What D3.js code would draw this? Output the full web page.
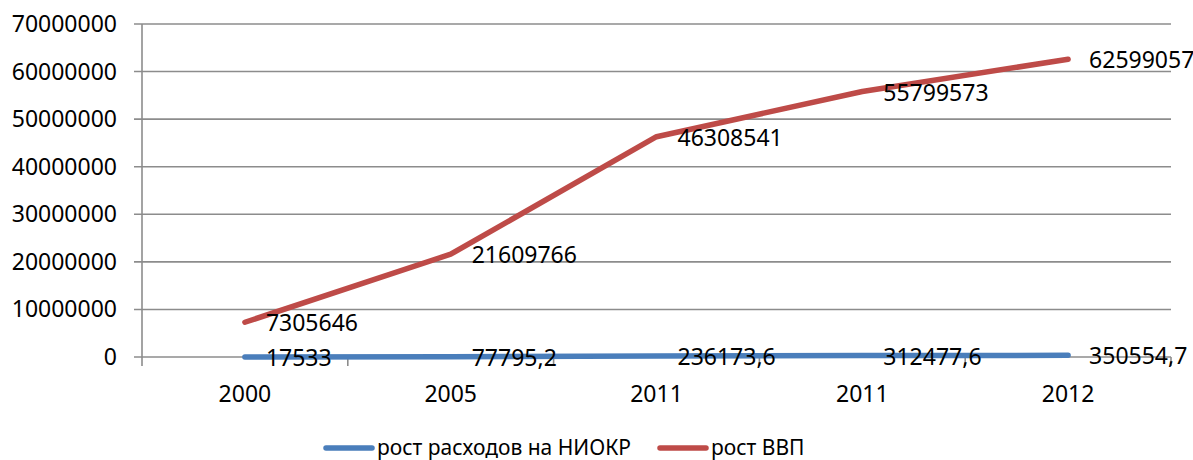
<!DOCTYPE html>
<html>
<head>
<meta charset="utf-8">
<script src="https://cdn.jsdelivr.net/npm/d3@7"></script>
<style>
  body { margin: 0; background: #fff; }
  text { font-family: "Noto Sans", "Open Sans", sans-serif; fill: #000; }
</style>
</head>
<body>
<div id="chart"></div>
<script>
const years = ["2000", "2005", "2011", "2011", "2012"];
const niokr = [17533, 77795.2, 236173.6, 312477.6, 350554.7];
const gdp = [7305646, 21609766, 46308541, 55799573, 62599057];
const seriesNames = ["рост расходов на НИОКР", "рост ВВП"];
const yTicks = [0, 10000000, 20000000, 30000000, 40000000, 50000000, 60000000, 70000000];

const W = 1193, H = 460;
const plotLeft = 142, plotRight = 1171, plotTop = 24, plotBottom = 357;

const svg = d3.select("#chart")
  .append("svg")
  .attr("width", W)
  .attr("height", H);

const idx = years.map((d, i) => i);

const x = d3.scaleBand()
  .domain(idx)
  .range([plotLeft, plotRight]);

const y = d3.scaleLinear()
  .domain([0, 70000000])
  .range([plotBottom, plotTop]);

const cx = i => x(i) + x.bandwidth() / 2;

// gridlines
svg.append("g")
  .selectAll("line")
  .data(yTicks)
  .enter()
  .append("line")
  .attr("x1", plotLeft - 8)
  .attr("x2", plotRight)
  .attr("y1", d => y(d))
  .attr("y2", d => y(d))
  .attr("stroke", "#8c8c8c")
  .attr("stroke-width", 1.6);

// y axis line
svg.append("line")
  .attr("x1", plotLeft).attr("x2", plotLeft)
  .attr("y1", plotTop).attr("y2", plotBottom)
  .attr("stroke", "#8c8c8c")
  .attr("stroke-width", 1.6);

// x ticks at band boundaries
svg.append("g")
  .selectAll("line")
  .data(idx.concat([idx.length]))
  .enter()
  .append("line")
  .attr("x1", d => plotLeft + d * x.bandwidth())
  .attr("x2", d => plotLeft + d * x.bandwidth())
  .attr("y1", plotBottom)
  .attr("y2", plotBottom + 9)
  .attr("stroke", "#8c8c8c")
  .attr("stroke-width", 1.6);

// y labels
svg.append("g")
  .selectAll("text")
  .data(yTicks)
  .enter()
  .append("text")
  .attr("x", 117)
  .attr("y", d => y(d))
  .attr("dy", "0.35em")
  .attr("text-anchor", "end")
  .style("font-size", "23px")
  .text(d => d);

// x labels
svg.append("g")
  .selectAll("text")
  .data(idx)
  .enter()
  .append("text")
  .attr("x", d => cx(d))
  .attr("y", 394)
  .attr("dy", "0.35em")
  .attr("text-anchor", "middle")
  .style("font-size", "23px")
  .text(d => years[d]);

const line = d3.line()
  .x((d, i) => cx(i))
  .y(d => y(d));

const series = [
  { name: seriesNames[0], values: niokr, color: "#4a7ebb" },
  { name: seriesNames[1], values: gdp, color: "#be4b48" }
];

series.forEach(s => {
  svg.append("path")
    .datum(s.values)
    .attr("d", line)
    .attr("fill", "none")
    .attr("stroke", s.color)
    .attr("stroke-width", 5.5)
    .attr("stroke-linecap", "round")
    .attr("stroke-linejoin", "round");
});

const fmt = v => String(v).replace(".", ",");

series.forEach(s => {
  svg.append("g")
    .selectAll("text")
    .data(s.values)
    .enter()
    .append("text")
    .attr("x", (d, i) => cx(i) + 21)
    .attr("y", d => y(d) + 1)
    .attr("dy", "0.35em")
    .style("font-size", "23px")
    .text(d => fmt(d));
});

// legend
const legendItems = [
  { x: 326, color: series[0].color, name: seriesNames[0] },
  { x: 660, color: series[1].color, name: seriesNames[1] }
];

const legend = svg.selectAll(".legend")
  .data(legendItems)
  .enter()
  .append("g")
  .attr("class", "legend")
  .attr("transform", d => `translate(${d.x},448)`);

legend.append("line")
  .attr("x1", 0).attr("x2", 46)
  .attr("stroke", d => d.color)
  .attr("stroke-width", 5.5)
  .attr("stroke-linecap", "round");

legend.append("text")
  .attr("x", 51)
  .attr("dy", "0.35em")
  .style("font-size", "21px")
  .text(d => d.name);
</script>
</body>
</html>
